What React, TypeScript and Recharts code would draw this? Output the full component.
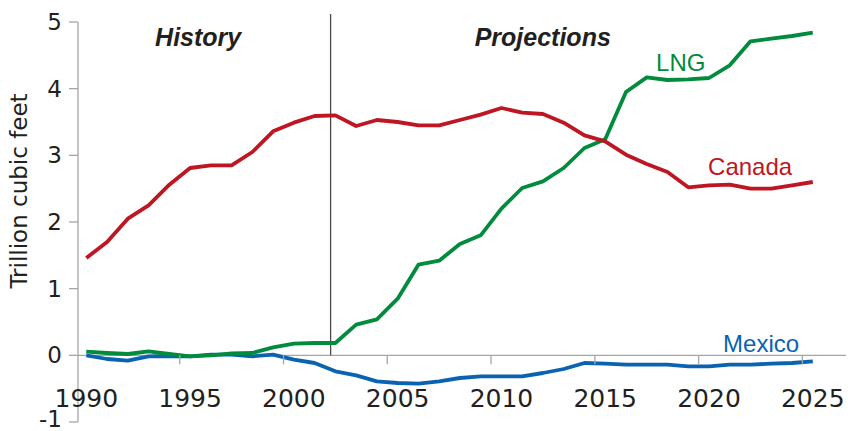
import { LineChart, Line, XAxis, YAxis, ReferenceLine, ReferenceDot } from 'recharts'

const years = Array.from({ length: 36 }, (_, i) => 1990 + i)
const canada = [1.46, 1.7, 2.05, 2.25, 2.56, 2.81, 2.85, 2.85, 3.05, 3.36, 3.49, 3.59, 3.6, 3.44, 3.53, 3.5, 3.45, 3.45, 3.53, 3.61, 3.71, 3.64, 3.62, 3.49, 3.3, 3.21, 3.01, 2.87, 2.75, 2.52, 2.55, 2.56, 2.5, 2.5, 2.55, 2.6]
const lng = [0.055, 0.035, 0.02, 0.06, 0.02, -0.015, 0, 0.03, 0.035, 0.12, 0.175, 0.185, 0.185, 0.46, 0.54, 0.85, 1.36, 1.42, 1.67, 1.8, 2.2, 2.51, 2.61, 2.81, 3.11, 3.24, 3.95, 4.17, 4.13, 4.14, 4.16, 4.35, 4.71, 4.75, 4.79, 4.84]
const mexico = [0, -0.055, -0.08, -0.015, -0.01, -0.015, 0.01, 0.01, -0.015, 0.01, -0.065, -0.115, -0.24, -0.3, -0.39, -0.415, -0.425, -0.39, -0.34, -0.315, -0.315, -0.315, -0.265, -0.205, -0.115, -0.125, -0.14, -0.14, -0.14, -0.165, -0.165, -0.14, -0.14, -0.125, -0.115, -0.09]
const xTicks = [1990, 1995, 2000, 2005, 2010, 2015, 2020, 2025]
const yTicks = [-1, 0, 1, 2, 3, 4, 5]
const X_DOMAIN = [1989.6, 2026.6]
const SPLIT_YEAR = 2001.77

const data = years.map((y, i) => ({ year: y, canada: canada[i], lng: lng[i], mexico: mexico[i] }))

const W = 848, H = 431
const M = { top: 22, right: 2, left: 0, bottom: 8 }
const Y_W = 78
const X_H = 1
const PLOT_W = W - M.left - M.right - Y_W
const PLOT_H = H - M.top - M.bottom - X_H
const HALF_YEAR = PLOT_W / (X_DOMAIN[1] - X_DOMAIN[0]) / 2
const ZERO_UP = PLOT_H / 6 // distance from bottom (-1) to the zero line

const AXIS = '#a6a6a6'
const TEXT = '#231f20'
const RED = '#be1622'
const GREEN = '#008c3c'
const BLUE = '#0a63b0'

// x axis crosses at zero: shift ticks up from the bottom of the plot
const xTick = (props: any) => {
  const { x, y, payload } = props
  const zy = y - ZERO_UP
  return (
    <g key={payload.value}>
      {payload.value !== 1990 && <line x1={x - HALF_YEAR} x2={x - HALF_YEAR} y1={zy} y2={zy + 9} stroke={AXIS} strokeWidth={1.3} />}
      <text x={x} y={zy + 52} textAnchor="middle" fill={TEXT} fontSize={25} fontFamily="DejaVu Sans">{payload.value}</text>
    </g>
  )
}

// bottom label sits on the page edge, lift it a little
const yTick = (props: any) => {
  const { x, y, payload } = props
  const lift = payload.value === -1 ? -3 : 0
  return (
    <text key={payload.value} x={x} y={y + lift} dy="0.355em" textAnchor="end" fill={TEXT} fontSize={23} fontFamily="DejaVu Sans">
      {payload.value}
    </text>
  )
}

const yLabel = () => (
  <text x={27} y={191} transform="rotate(-90, 27, 191)" textAnchor="middle" fill={TEXT} fontSize={23} fontFamily="DejaVu Sans">
    Trillion cubic feet
  </text>
)

const note = (value: string, fill: string, bold = false) => ({
  value, fill, position: 'center' as const, fontSize: bold ? 25 : 24,
  fontFamily: 'Liberation Sans', fontWeight: bold ? 700 : 400, fontStyle: bold ? 'italic' : 'normal',
})

export default function App() {
  return (
    <div style={{ position: 'absolute', left: 0, top: 0, background: '#fff' }}>
      <LineChart width={W} height={H} data={data} margin={M}>
        <XAxis dataKey="year" type="number" domain={X_DOMAIN} ticks={xTicks} height={X_H} axisLine={false} tickLine={false}
          tickSize={0} tickMargin={0} tick={xTick} interval={0} allowDataOverflow />
        <YAxis width={Y_W} domain={[-1, 5]} ticks={yTicks} interval={0} axisLine={{ stroke: AXIS, strokeWidth: 1.3 }}
          tickLine={{ stroke: AXIS, strokeWidth: 1.3 }} tickSize={9} tickMargin={7}
          tick={yTick} label={{ content: yLabel }} />
        <ReferenceLine y={0} stroke={AXIS} strokeWidth={1.3} />
        <ReferenceLine segment={[{ x: SPLIT_YEAR, y: 0 }, { x: SPLIT_YEAR, y: 5.12 }]} stroke="#4a4a4a" strokeWidth={1.3} ifOverflow="visible" />
        <Line dataKey="mexico" stroke={BLUE} strokeWidth={3.8} dot={false} isAnimationActive={false} strokeLinejoin="round" />
        <Line dataKey="lng" stroke={GREEN} strokeWidth={3.8} dot={false} isAnimationActive={false} strokeLinejoin="round" />
        <Line dataKey="canada" stroke={RED} strokeWidth={3.8} dot={false} isAnimationActive={false} strokeLinejoin="round" />
        <ReferenceDot x={1995.39} y={4.78} r={0} ifOverflow="visible" label={note('History', TEXT, true)} />
        <ReferenceDot x={2011.99} y={4.775} r={0} ifOverflow="visible" label={note('Projections', TEXT, true)} />
        <ReferenceDot x={2018.64} y={4.4} r={0} ifOverflow="visible" label={note('LNG', GREEN)} />
        <ReferenceDot x={2021.98} y={2.84} r={0} ifOverflow="visible" label={note('Canada', RED)} />
        <ReferenceDot x={2022.51} y={0.18} r={0} ifOverflow="visible" label={note('Mexico', BLUE)} />
      </LineChart>
    </div>
  )
}
